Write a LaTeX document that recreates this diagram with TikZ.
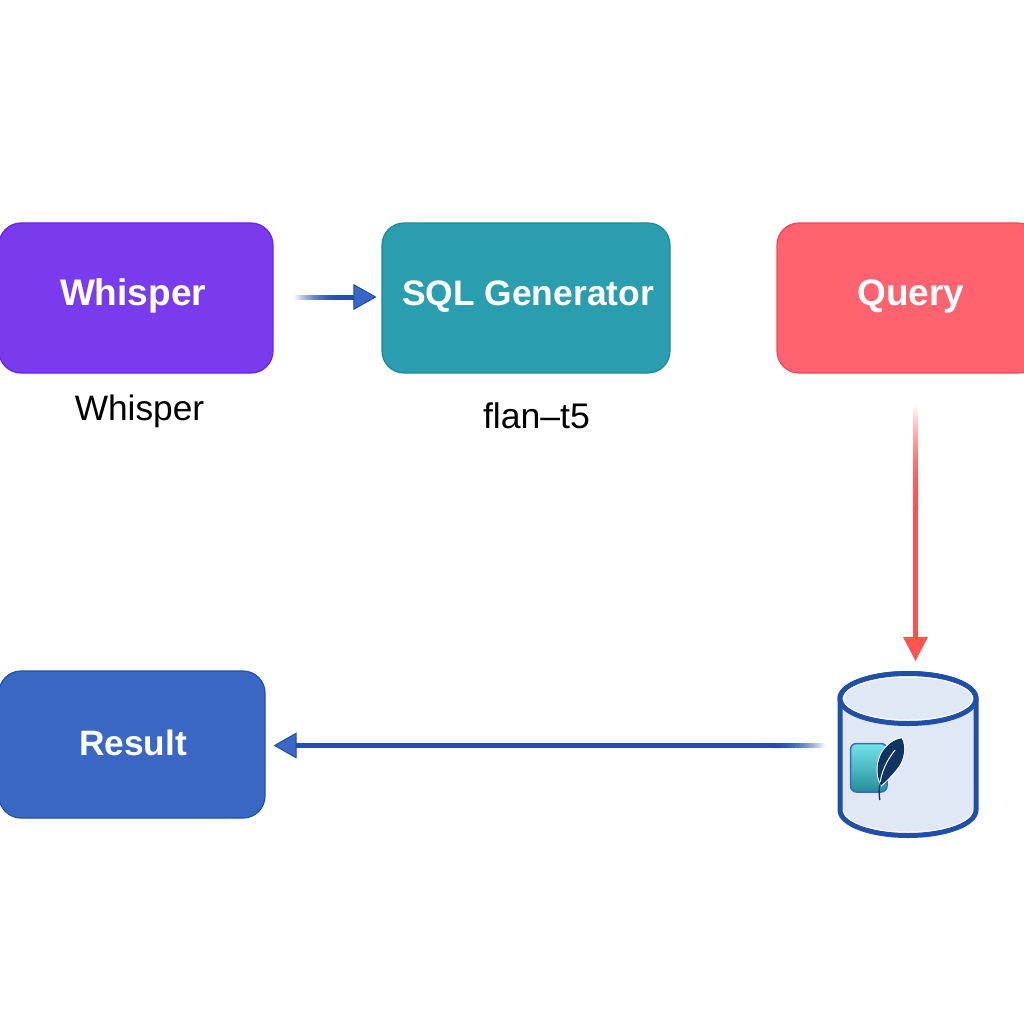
\documentclass[tikz,border=0pt]{standalone}
\usepackage{fontspec}
\setmainfont{Liberation Sans}
\usetikzlibrary{arrows.meta,calc}
\definecolor{vio}{HTML}{7A3BEF}\definecolor{vioB}{HTML}{6A22F0}
\definecolor{teal2}{HTML}{2A9DAE}\definecolor{teal2B}{HTML}{1F8A9A}
\definecolor{rosy}{HTML}{FF6370}\definecolor{rosyB}{HTML}{F5475A}
\definecolor{blu}{HTML}{3A66C4}\definecolor{bluB}{HTML}{1F4DB0}
\definecolor{redA}{HTML}{FF5050}\definecolor{redH}{HTML}{FF5550}
\definecolor{cyl}{HTML}{E0E8F5}\definecolor{cylB}{HTML}{1F4FA8}
\definecolor{navy}{HTML}{0F3460}
\tikzset{
  boxnode/.style={draw=#1B,fill=#1,line width=1.2pt,rounded corners=22pt,minimum height=150pt,
    text=white,font=\fontsize{37}{37}\selectfont\bfseries,text height=26pt,text depth=12pt,inner xsep=0pt,inner ysep=0pt},
  caption/.style={font=\fontsize{35.3}{36}\selectfont,text=black,anchor=base,inner sep=0pt},
  bluearrow/.style={draw=bluB,line width=5pt,-{Triangle[length=23pt,width=26pt,fill=blu,line width=1pt]}},
  redarrow/.style={draw=redA,line width=5pt,-{Triangle[length=24pt,width=25pt,fill=redH,line width=0.6pt]}},
}
% fading tail of a connector: #1 faint end, #2 full end, #3 colour
\newcommand{\fadetail}[3]{%
  \foreach \k in {0,...,39}{%
    \pgfmathsetmacro{\tA}{\k/40}%
    \pgfmathsetmacro{\tB}{min(1,(\k+1.4)/40)}%
    \pgfmathsetmacro{\pct}{100*(1-(1-(\k+0.5)/40)^2)}%
    \draw[#3!\pct!white,line width=5pt] ($(#1)!\tA!(#2)$) -- ($(#1)!\tB!(#2)$);
  }}
\begin{document}
\begin{tikzpicture}[x=1pt,y=-1pt]
\useasboundingbox (0,0) rectangle (1024,1024);
\clip (0,0) rectangle (1024,1024);
\fill[white] (0,0) rectangle (1024,1024);
% boxes
\node[boxnode=vio,minimum width=274pt] (whisper) at (136,298) {\hspace*{-6pt}Whisper};
\node[boxnode=teal2,minimum width=288pt,font=\fontsize{35.4}{36}\selectfont\bfseries] (sql) at (526,298) {\hspace*{4pt}SQL Generator};
\node[boxnode=rosy,minimum width=263pt] (query) at (908.5,298) {\hspace*{5pt}Query};
\node[boxnode=blu,minimum width=266pt,minimum height=147pt,text height=33pt,font=\fontsize{35.3}{36}\selectfont\bfseries] (result) at (132,744.5) {\hspace*{2pt}Result};
% captions
\node[caption] (capw) at (139.5,420) {Whisper};
\node[caption,font=\fontsize{35.6}{36}\selectfont] (capf) at (536.5,428) {flan–t5};
% database
\node[minimum width=142pt,minimum height=166pt,inner sep=0pt] (db) at (908,755) {};
\filldraw[fill=cyl,draw=cylB,line width=5pt]
  (840,698.5) -- (840,810) arc[start angle=180,end angle=0,x radius=68,y radius=25.5] -- (976,698.5)
  arc[start angle=0,end angle=-180,x radius=68,y radius=25] -- cycle;
\draw[white,line width=1pt] (843.5,810) arc[start angle=180,end angle=0,x radius=64.5,y radius=22];
\filldraw[fill=cyl,draw=cylB,line width=5pt] (908,698.5) ellipse[x radius=68,y radius=25];
\draw[white,line width=1pt] (908,698.5) ellipse[x radius=64.5,y radius=21.5];
% icon
\shade[top color=cyan!55!teal2!60!white,bottom color=teal2!90!black,draw=blu,line width=1.5pt,rounded corners=6pt] (850.5,743.5) rectangle (887,792);
\draw[white,line width=2pt,fill=navy] (901.7,738.3) .. controls (906,746) and (905,760) .. (896,770)
  .. controls (891,776) and (886,781) .. (881.5,785)
  .. controls (875,775) and (877,760) .. (883,751)
  .. controls (888,744) and (895,739) .. (901.7,738.3) -- cycle;
\fill[navy] (901.7,738.3) .. controls (906,746) and (905,760) .. (896,770)
  .. controls (891,776) and (886,781) .. (881.5,785)
  .. controls (875,775) and (877,760) .. (883,751)
  .. controls (888,744) and (895,739) .. (901.7,738.3) -- cycle;
\draw[white,line width=1pt] (879.6,786) .. controls (881,772) and (887,760) .. (895,750);
\draw[navy,line width=1.3pt] (880.6,782) .. controls (878.5,788) and (879,794) .. (879.8,800);
% connectors
\coordinate (a1) at (294,297); \coordinate (a1m) at (342,297);
\draw[bluearrow,shorten >=5pt] (a1m) -- (a1m -| sql.west);
\fadetail{a1}{a1m}{bluB}
\coordinate (a2) at (915.5,405); \coordinate (a2m) at (915.5,510);
\draw[redarrow,shorten >=11pt] (a2m) -- (a2m |- db.north);
\fadetail{a2}{a2m}{redA}
\coordinate (a3) at (826,745.5); \coordinate (a3m) at (772,745.5);
\draw[bluearrow,shorten >=8pt] (a3m) -- (a3m -| result.east);
\fadetail{a3}{a3m}{bluB}
\end{tikzpicture}
\end{document}
